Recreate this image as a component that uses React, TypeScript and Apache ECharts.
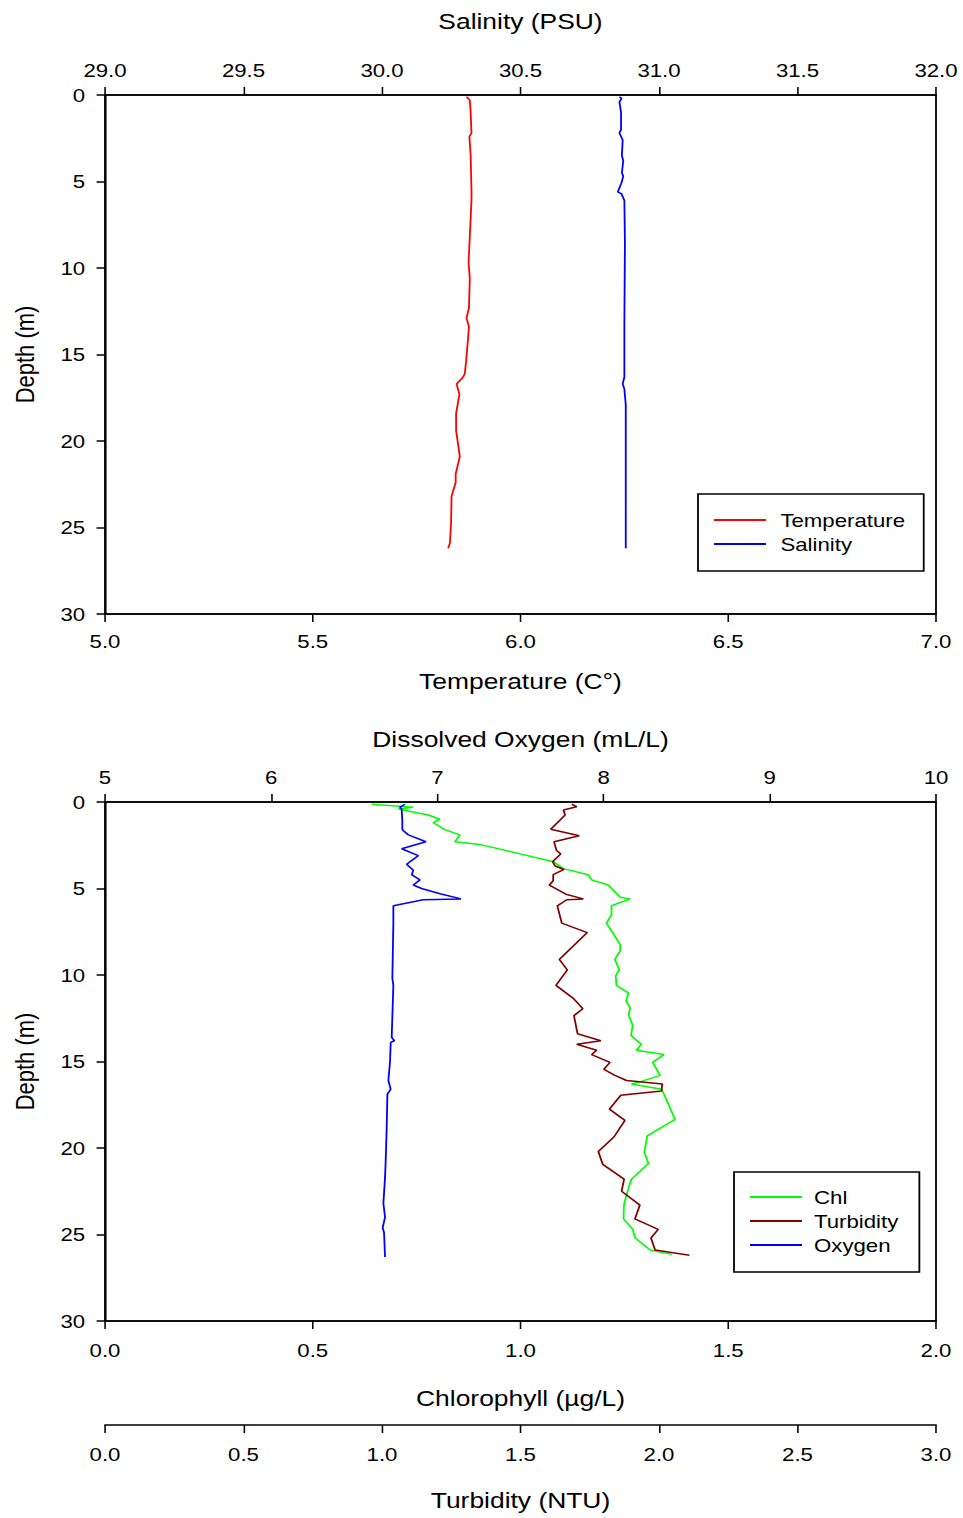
import React, { useEffect, useRef } from "react";
import * as echarts from "echarts";

// ---------- data ----------
const depthTicks = [0, 5, 10, 15, 20, 25, 30];

const tempDepth = [0.1, 0.3, 1.0, 2.2, 2.4, 3.5, 5.5, 6.1, 8.2, 9.7, 10.6, 12.3, 12.9, 13.4, 14.0, 15.4, 16.1, 16.3, 16.7, 17.3, 18.4, 19.4, 20.9, 21.9, 22.4, 23.2, 24.7, 25.9, 26.2];
const tempValues = [5.870, 5.878, 5.880, 5.882, 5.877, 5.880, 5.882, 5.882, 5.878, 5.875, 5.878, 5.876, 5.870, 5.876, 5.874, 5.869, 5.866, 5.862, 5.846, 5.853, 5.845, 5.845, 5.854, 5.844, 5.844, 5.834, 5.833, 5.830, 5.826];

const salDepth = [0.1, 0.2, 0.4, 1.0, 2.0, 2.2, 2.6, 3.5, 3.8, 4.5, 4.7, 5.1, 5.6, 5.7, 6.1, 8.5, 13.3, 16.3, 16.7, 17.0, 17.9, 26.2];
const salValues = [30.857, 30.865, 30.857, 30.863, 30.863, 30.857, 30.869, 30.866, 30.871, 30.866, 30.871, 30.864, 30.851, 30.864, 30.875, 30.877, 30.875, 30.875, 30.869, 30.875, 30.880, 30.880];

const oxyDepth = [0.13, 0.3, 0.4, 1.1, 1.6, 1.9, 2.3, 2.7, 3.1, 3.6, 3.95, 4.2, 4.5, 4.8, 5.0, 5.3, 5.6, 5.65, 6.0, 7.0, 10.2, 10.6, 13.6, 13.8, 13.9, 15.0, 16.1, 16.6, 16.9, 18.8, 20.7, 21.7, 23.2, 24.0, 24.6, 24.9, 26.3];
const oxyValues = [6.805, 6.775, 6.785, 6.789, 6.789, 6.825, 6.931, 6.785, 6.885, 6.815, 6.855, 6.845, 6.895, 6.855, 6.905, 7.016, 7.142, 6.915, 6.735, 6.735, 6.729, 6.735, 6.725, 6.741, 6.719, 6.715, 6.705, 6.719, 6.699, 6.695, 6.689, 6.685, 6.675, 6.685, 6.671, 6.679, 6.685];

const chlDepth = [0.13, 0.3, 0.4, 0.75, 1.0, 1.2, 1.6, 1.9, 2.3, 2.45, 3.0, 3.45, 3.85, 4.2, 4.5, 4.8, 5.5, 5.6, 6.0, 6.5, 7.0, 8.25, 8.6, 9.1, 9.7, 10.05, 10.6, 11.05, 11.5, 11.9, 12.3, 12.9, 13.5, 13.75, 14.0, 14.35, 14.6, 15.05, 15.8, 16.15, 16.3, 16.6, 18.35, 19.3, 20.25, 20.9, 21.8, 22.8, 23.3, 24.1, 24.7, 25.2, 25.9, 26.15];
const chlValues = [0.642, 0.742, 0.706, 0.778, 0.806, 0.790, 0.818, 0.854, 0.842, 0.902, 0.999, 1.079, 1.103, 1.163, 1.171, 1.211, 1.240, 1.264, 1.219, 1.219, 1.207, 1.240, 1.240, 1.227, 1.238, 1.229, 1.231, 1.260, 1.254, 1.264, 1.260, 1.270, 1.266, 1.278, 1.291, 1.279, 1.345, 1.318, 1.336, 1.291, 1.267, 1.340, 1.372, 1.305, 1.298, 1.308, 1.267, 1.254, 1.249, 1.248, 1.270, 1.276, 1.312, 1.364];

const turbDepth = [0.13, 0.27, 0.46, 0.75, 1.04, 1.58, 1.95, 2.3, 2.8, 3.0, 3.45, 3.7, 3.9, 4.2, 4.55, 4.8, 5.35, 5.6, 5.65, 6.0, 7.0, 7.55, 9.1, 9.7, 10.6, 11.35, 11.95, 12.35, 13.4, 13.8, 14.0, 14.35, 14.6, 15.05, 15.45, 15.8, 16.1, 16.3, 16.7, 16.95, 17.75, 18.4, 19.35, 20.2, 20.95, 21.8, 22.5, 23.3, 24.1, 24.7, 25.2, 25.9, 26.2];
const turbValues = [1.685, 1.703, 1.655, 1.661, 1.643, 1.609, 1.712, 1.621, 1.630, 1.645, 1.616, 1.625, 1.657, 1.618, 1.618, 1.604, 1.667, 1.727, 1.667, 1.633, 1.649, 1.741, 1.640, 1.669, 1.628, 1.691, 1.725, 1.693, 1.706, 1.790, 1.703, 1.775, 1.757, 1.823, 1.801, 1.841, 1.883, 2.012, 2.009, 1.862, 1.821, 1.877, 1.838, 1.781, 1.797, 1.874, 1.865, 1.931, 1.913, 1.997, 1.971, 1.986, 2.110];

const topLegend = ["Temperature", "Salinity"];
const bottomLegend = ["Chl", "Turbidity", "Oxygen"];

// ---------- layout ----------
const W = 963;
const H = 1518;
const IW = 802;
const S = W / IW; // horizontal stretch of the original figure
const ix = (x: number) => x / S;
const FONT = "'Liberation Sans', Arial, Helvetica, sans-serif";
const TICK_FS = 18.5;
const TITLE_FS = 22;

const zip = (xs: number[], ys: number[]) => xs.map((x, i) => [x, ys[i]]);

function xAx(grid: number, pos: string, min: number, max: number, interval: number, name: string, nameGap: number, margin: number, digits: number, offset = 0) {
  return {
    gridIndex: grid,
    type: "value",
    position: pos,
    offset,
    min,
    max,
    interval,
    name,
    nameLocation: "middle",
    nameGap,
    nameTextStyle: { fontSize: TITLE_FS, color: "#000", fontFamily: FONT },
    axisLine: { show: true, onZero: false, lineStyle: { color: "#000", width: 1.5 } },
    axisTick: { show: true, inside: false, length: 8, lineStyle: { color: "#000", width: 1.3 } },
    axisLabel: { margin, fontSize: TICK_FS, color: "#000", fontFamily: FONT, formatter: (v: number) => v.toFixed(digits) },
    splitLine: { show: false },
  };
}

function yAx(grid: number) {
  return {
    gridIndex: grid,
    type: "value",
    inverse: true,
    min: depthTicks[0],
    max: depthTicks[depthTicks.length - 1],
    interval: depthTicks[1] - depthTicks[0],
    name: "Depth (m)",
    nameLocation: "middle",
    nameGap: 56,
    nameRotate: 90,
    nameTextStyle: { fontSize: TITLE_FS, color: "#000", fontFamily: FONT },
    axisLine: { show: true, onZero: false, lineStyle: { color: "#000", width: 1.5 } },
    axisTick: { show: true, inside: false, length: 7, lineStyle: { color: "#000", width: 1.5 } },
    axisLabel: { margin: 16.5, fontSize: TICK_FS, color: "#000", fontFamily: FONT },
    splitLine: { show: false },
  };
}

function lineSeries(name: string, xi: number, yi: number, xs: number[], ys: number[], color: string) {
  return {
    name,
    type: "line",
    xAxisIndex: xi,
    yAxisIndex: yi,
    data: zip(xs, ys),
    symbol: "none",
    showSymbol: false,
    lineStyle: { color, width: 1.5 },
    itemStyle: { color },
    clip: true,
  };
}

function legend(data: string[], left: number, top: number, padding: number[], textPad: number) {
  return {
    data,
    orient: "vertical",
    left,
    top,
    padding,
    itemGap: 0,
    itemWidth: ix(52),
    itemHeight: 2,
    icon: "rect",
    borderColor: "#000",
    borderWidth: 1.5,
    backgroundColor: "#fff",
    selectedMode: false,
    textStyle: { fontSize: TICK_FS, color: "#000", fontFamily: FONT, lineHeight: 24, padding: [0, 0, 0, textPad] },
  };
}

const option = {
  animation: false,
  backgroundColor: "#fff",
  grid: [
    { left: ix(105), top: 95, width: ix(936) - ix(105), height: 519, show: true, borderColor: "#000", borderWidth: 1.5, backgroundColor: "transparent" },
    { left: ix(105), top: 802, width: ix(936) - ix(105), height: 519, show: true, borderColor: "#000", borderWidth: 1.5, backgroundColor: "transparent" },
  ],
  xAxis: [
    xAx(0, "top", 29, 32, 0.5, "Salinity (PSU)", 63, 15, 1),
    xAx(0, "bottom", 5, 7, 0.5, "Temperature (C°)", 56, 18, 1),
    xAx(1, "top", 5, 10, 1, "Dissolved Oxygen (mL/L)", 52, 15, 0),
    xAx(1, "bottom", 0, 2, 0.5, "Chlorophyll (µg/L)", 66, 20, 1),
    xAx(1, "bottom", 0, 3, 0.5, "Turbidity (NTU)", 64, 20, 1, 104),
  ],
  yAxis: [yAx(0), yAx(1)],
  legend: [
    legend(topLegend, ix(698), 494, [14, 15.5, 15, ix(16)], 7),
    legend(bottomLegend, ix(734), 1172, [13, 17.5, 15, ix(16)], 5),
  ],
  series: [
    lineSeries("Temperature", 1, 0, tempValues, tempDepth, "#ff0000"),
    lineSeries("Salinity", 0, 0, salValues, salDepth, "#0000ff"),
    lineSeries("Chl", 3, 1, chlValues, chlDepth, "#00ff00"),
    lineSeries("Turbidity", 4, 1, turbValues, turbDepth, "#800000"),
    lineSeries("Oxygen", 2, 1, oxyValues, oxyDepth, "#0000ff"),
  ],
};

export default function App() {
  const ref = useRef<HTMLDivElement>(null);
  useEffect(() => {
    document.body.style.margin = "0";
    if (!ref.current) return;
    const chart = echarts.init(ref.current, null, { renderer: "svg", width: IW, height: H });
    chart.setOption(option as any);
    return () => chart.dispose();
  }, []);
  return (
    <div style={{ position: "absolute", left: 0, top: 0, width: W, height: H, overflow: "hidden", background: "#fff" }}>
      <div ref={ref} style={{ width: IW, height: H, transform: `scaleX(${S})`, transformOrigin: "0 0" }} />
    </div>
  );
}
